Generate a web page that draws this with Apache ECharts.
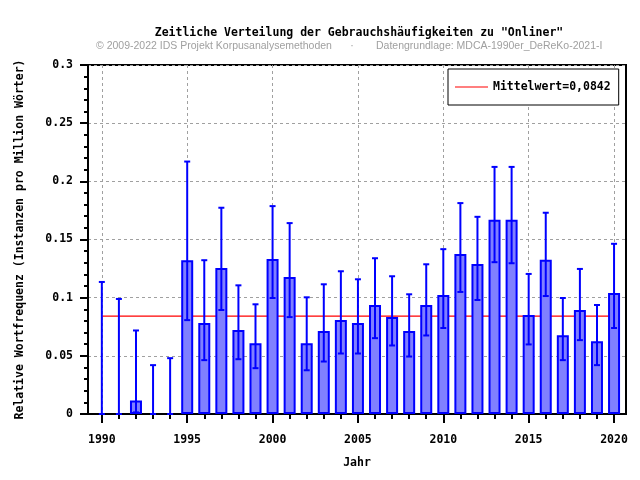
<!DOCTYPE html>
<html>
<head>
<meta charset="utf-8">
<script src="https://cdn.jsdelivr.net/npm/echarts@6/dist/echarts.min.js"></script>
<style>html,body{margin:0;padding:0;background:#fff;}#c{width:640px;height:480px;}</style>
</head>
<body>
<div id="c"></div>
<script>
var years = [1990,1991,1992,1993,1994,1995,1996,1997,1998,1999,2000,2001,2002,2003,2004,2005,2006,2007,2008,2009,2010,2011,2012,2013,2014,2015,2016,2017,2018,2019,2020];
var values = [0,0,0.0115,0,0,0.1322,0.0782,0.1256,0.0721,0.0609,0.1333,0.1178,0.0609,0.0713,0.0807,0.0782,0.0937,0.0833,0.0713,0.0937,0.1023,0.1376,0.129,0.167,0.167,0.0851,0.1325,0.0678,0.0894,0.0626,0.104];
var upper = [0.1135,0.0989,0.0718,0.042,0.048,0.217,0.1322,0.1773,0.1106,0.0943,0.1787,0.1641,0.1003,0.1115,0.1227,0.1158,0.1339,0.1184,0.1029,0.1287,0.1417,0.1813,0.1695,0.2124,0.2124,0.1204,0.173,0.0997,0.1247,0.0937,0.1463];
var lower = [0,0,0.0014,0,0,0.0807,0.0463,0.0894,0.0471,0.0394,0.0997,0.0833,0.0376,0.0451,0.052,0.052,0.0652,0.0589,0.0494,0.0675,0.0739,0.1049,0.098,0.1305,0.1296,0.0598,0.1014,0.0463,0.0635,0.042,0.0739];
var meanValue = 0.0842;
var meanLabel = 'Mittelwert=0,0842';
var majorYears = [1990,1995,2000,2005,2010,2015,2020];
var titleText = 'Zeitliche Verteilung der Gebrauchsh\u00e4ufigkeiten zu "Onliner"';
var subLeft = '\u00a9 2009-2022 IDS Projekt Korpusanalysemethoden';
var subRight = 'Datengrundlage: MDCA-1990er_DeReKo-2021-I';
var xName = 'Jahr';
var yName = 'Relative Wortfrequenz (Instanzen pro Million W\u00f6rter)';

var MONO = '"DejaVu Sans Mono", "Liberation Mono", monospace';
var SUBFONT = '10.5px "Liberation Sans", Arial, sans-serif';
var barData = years.map(function (y, i) { return [y, values[i] === 0 ? '-' : values[i]]; });
var errData = years.map(function (y, i) { return [y, lower[i], upper[i]]; });
var meanData = [[years[0], meanValue], [years[years.length - 1], meanValue]];

var chart = echarts.init(document.getElementById('c'), null, {renderer: 'canvas'});
var labelStyle = {fontFamily: MONO, fontWeight: 'bold', fontSize: 11.5, color: '#000'};
var XMIN = 1989.19, XMAX = 2020.7;
chart.setOption({
  animation: false,
  backgroundColor: '#fff',
  graphic: [
    {type: 'text', x: 359, y: 33.5, style: {text: titleText, font: 'bold 11.5px ' + MONO, fill: '#000', align: 'center', verticalAlign: 'middle'}},
    {type: 'text', x: 96, y: 46, style: {text: subLeft, font: SUBFONT, fill: '#a0a0a0', align: 'left', verticalAlign: 'middle'}},
    {type: 'text', x: 352, y: 46, style: {text: '\u00b7', font: SUBFONT, fill: '#a0a0a0', align: 'center', verticalAlign: 'middle'}},
    {type: 'text', x: 376, y: 46, style: {text: subRight, font: SUBFONT, fill: '#a0a0a0', align: 'left', verticalAlign: 'middle'}}
  ],
  legend: {
    left: 448, top: 69,
    orient: 'vertical',
    padding: [12, 8, 12, 7],
    borderColor: '#000', borderWidth: 1, backgroundColor: '#fff',
    itemWidth: 33, itemHeight: 1, itemGap: 0,
    textStyle: labelStyle,
    data: [{name: meanLabel, icon: 'rect'}]
  },
  grid: {left: 88, right: 14, top: 65, bottom: 66, show: true, borderColor: '#000', borderWidth: 2, backgroundColor: 'transparent'},
  xAxis: [
    {
      type: 'value', min: XMIN, max: XMAX, position: 'bottom',
      name: xName, nameLocation: 'middle', nameGap: 43, nameTextStyle: labelStyle,
      axisLine: {show: true, onZero: false, lineStyle: {color: '#000', width: 2}},
      axisTick: {show: true, inside: false, length: 9, customValues: majorYears, lineStyle: {color: '#000', width: 2}},
      axisLabel: {show: true, customValues: majorYears, margin: 20, fontFamily: MONO, fontWeight: 'bold', fontSize: 11.5, color: '#000', formatter: function (v) { return String(v); }},
      splitLine: {show: true, lineStyle: {color: '#a0a0a0', width: 1, type: [3, 3]}}
    },
    {
      type: 'value', min: XMIN, max: XMAX, position: 'bottom', offset: 0,
      axisLine: {show: false, onZero: false},
      axisTick: {show: true, inside: false, length: 5, customValues: years, lineStyle: {color: '#000', width: 2}},
      axisLabel: {show: false},
      splitLine: {show: false}
    }
  ],
  yAxis: {
    type: 'value', min: 0, max: 0.3, interval: 0.05,
    name: yName, nameLocation: 'middle', nameGap: 62, nameTextStyle: labelStyle,
    axisLine: {show: true, lineStyle: {color: '#000', width: 2}},
    axisTick: {show: true, length: 8, lineStyle: {color: '#000', width: 2}},
    minorTick: {show: true, splitNumber: 5, length: 4, lineStyle: {color: '#000', width: 2}},
    axisLabel: {margin: 15, fontFamily: MONO, fontWeight: 'bold', fontSize: 11.5, color: '#000'},
    splitLine: {show: true, lineStyle: {color: '#a0a0a0', width: 1, type: [3, 3]}}
  },
  series: [
    {
      name: meanLabel, type: 'line', data: meanData, symbol: 'none', z: 1,
      lineStyle: {color: '#ff0000', width: 1.2}, itemStyle: {color: '#ff0000'}
    },
    {
      name: 'Wert', type: 'bar', data: barData, barWidth: 12, z: 2,
      itemStyle: {color: '#8080ff', borderColor: '#0000ff', borderWidth: 2}
    },
    {
      name: 'Fehler', type: 'custom', data: errData, z: 3,
      encode: {x: 0, y: [1, 2]},
      renderItem: function (params, api) {
        var x = api.value(0);
        var lo = api.coord([x, api.value(1)]);
        var hi = api.coord([x, api.value(2)]);
        var h = 3;
        var st = {stroke: '#0000ff', lineWidth: 2};
        return {type: 'group', children: [
          {type: 'line', shape: {x1: lo[0], y1: lo[1], x2: hi[0], y2: hi[1]}, style: st},
          {type: 'line', shape: {x1: hi[0] - h, y1: hi[1], x2: hi[0] + h, y2: hi[1]}, style: st},
          {type: 'line', shape: {x1: lo[0] - h, y1: lo[1], x2: lo[0] + h, y2: lo[1]}, style: st}
        ]};
      }
    }
  ]
});
</script>
</body>
</html>
